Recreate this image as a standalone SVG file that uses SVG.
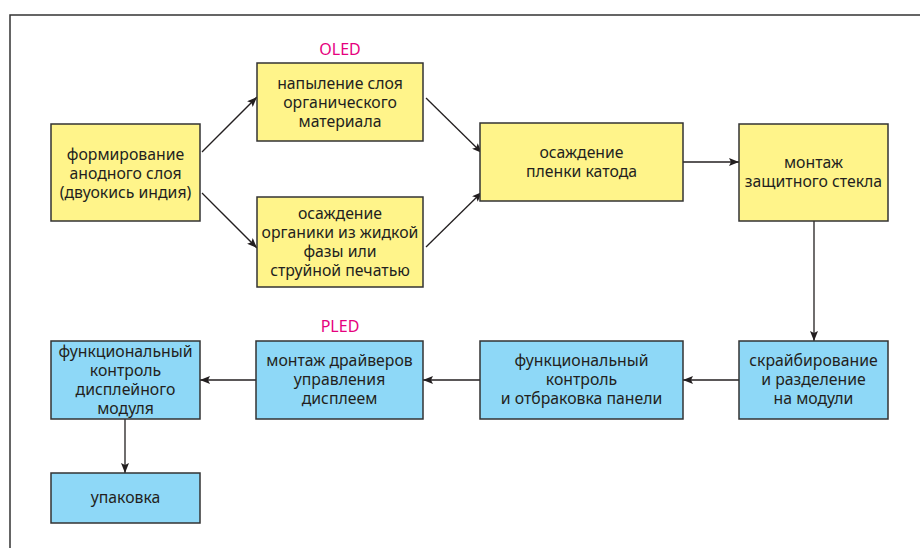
<svg xmlns="http://www.w3.org/2000/svg" width="920" height="548" viewBox="0 0 920 548">
<style>
.y{fill:#FFF48A;stroke:#333;stroke-width:1.5}
.b{fill:#8ED8F7;stroke:#333;stroke-width:1.5}
text{font-family:"Noto Sans","Open Sans",sans-serif;font-size:15.8px;fill:#231F20;text-anchor:middle}
.lab{fill:#E6007E;font-size:16px}
.c{stroke:#231F20;stroke-width:1.3;fill:none;marker-end:url(#ah)}
</style>
<defs>
<marker id="ah" viewBox="0 0 10 8" refX="10" refY="4" markerWidth="10" markerHeight="8" markerUnits="userSpaceOnUse" orient="auto">
<path d="M0,0 L10,4 L0,8 L2,4 Z" fill="#231F20"/>
</marker>
</defs>
<rect width="920" height="548" fill="#fff"/>
<path d="M10,548 V15 H920" fill="none" stroke="#333" stroke-width="1.5"/>
<text class="lab" x="340" y="55">OLED</text>
<text class="lab" x="340" y="332">PLED</text>
<g id="connectors">
<line class="c" x1="202" y1="152" x2="257" y2="97"/>
<line class="c" x1="202" y1="193" x2="257" y2="248"/>
<line class="c" x1="426" y1="98" x2="482" y2="153"/>
<line class="c" x1="426" y1="247" x2="482" y2="192"/>
<line class="c" x1="683" y1="162" x2="739" y2="162"/>
<line class="c" x1="814" y1="221" x2="814" y2="341"/>
<line class="c" x1="739" y1="380" x2="683" y2="380"/>
<line class="c" x1="480" y1="380" x2="423" y2="380"/>
<line class="c" x1="256" y1="380" x2="200" y2="380"/>
<line class="c" x1="125" y1="419" x2="125" y2="473"/>
</g>
<g id="n1"><rect class="y" x="51" y="124" width="149" height="97"/>
<text x="125.5" y="160">формирование</text><text x="125.5" y="179">анодного слоя</text><text x="125.5" y="198">(двуокись индия)</text></g>
<g id="n2"><rect class="y" x="257" y="63" width="166" height="78"/>
<text x="340" y="89">напыление слоя</text><text x="340" y="108">органического</text><text x="340" y="127">материала</text></g>
<g id="n3"><rect class="y" x="257" y="197" width="166" height="90"/>
<text x="340" y="218.5">осаждение</text><text x="340" y="237.5">органики из жидкой</text><text x="340" y="256.5">фазы или</text><text x="340" y="275.5">струйной печатью</text></g>
<g id="n4"><rect class="y" x="480" y="123" width="203" height="78"/>
<text x="581.5" y="157.5">осаждение</text><text x="581.5" y="176.5">пленки катода</text></g>
<g id="n5"><rect class="y" x="739" y="124" width="149" height="97"/>
<text x="813.5" y="168">монтаж</text><text x="813.5" y="187">защитного стекла</text></g>
<g id="n6"><rect class="b" x="739" y="341" width="149" height="78"/>
<text x="813.5" y="366">скрайбирование</text><text x="813.5" y="385">и разделение</text><text x="813.5" y="404">на модули</text></g>
<g id="n7"><rect class="b" x="480" y="341" width="203" height="78"/>
<text x="581.5" y="366">функциональный</text><text x="581.5" y="385">контроль</text><text x="581.5" y="404">и отбраковка панели</text></g>
<g id="n8"><rect class="b" x="256" y="341" width="167" height="78"/>
<text x="339.5" y="366">монтаж драйверов</text><text x="339.5" y="385">управления</text><text x="339.5" y="404">дисплеем</text></g>
<g id="n9"><rect class="b" x="51" y="341" width="149" height="78"/>
<text x="125.5" y="356.5">функциональный</text><text x="125.5" y="375.5">контроль</text><text x="125.5" y="394.5">дисплейного</text><text x="125.5" y="413.5">модуля</text></g>
<g id="n10"><rect class="b" x="51" y="473" width="149" height="50"/>
<text x="125.5" y="503">упаковка</text></g>
</svg>
